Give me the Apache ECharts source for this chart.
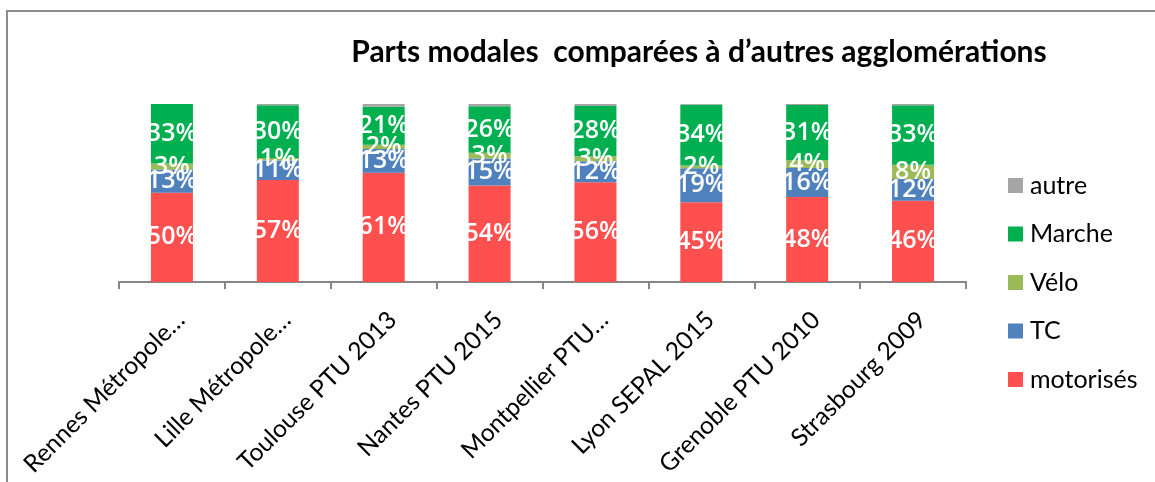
<!DOCTYPE html>
<html><head><meta charset="utf-8">
<script src="https://cdn.jsdelivr.net/npm/echarts@6/dist/echarts.min.js"></script>
<style>html,body{margin:0;padding:0;background:#fff}#c{width:1155px;height:482px}</style>
</head><body><div id="c"></div>
<script>
const categories = ["Rennes Métropole…","Lille Métropole…","Toulouse PTU 2013","Nantes PTU 2015","Montpellier PTU…","Lyon SEPAL 2015","Grenoble PTU 2010","Strasbourg 2009"];
const motorises = [50.2, 57.3, 61.4, 54.2, 56.0, 44.8, 47.8, 45.7];
const tc        = [13.0, 10.9, 13.3, 15.2, 11.8, 19.1, 16.3, 12.2];
const velo      = [3.4, 1.4, 2.4, 3.2, 2.8, 1.6, 4.3, 8.0];
const marche    = [33.4, 29.7, 21.4, 26.2, 28.3, 34.1, 31.0, 33.4];
const autre     = [0.0, 0.7, 1.5, 1.2, 1.1, 0.4, 0.6, 0.7];
const legendOrder = ["autre","Marche","Vélo","TC","motorisés"];
const title = "Parts modales  comparées à d’autres agglomérations";

const chart = echarts.init(document.getElementById('c'));
const lbl = {show:true, position:'inside', color:'#fff', fontFamily:'Open Sans', fontWeight:600, fontSize:25,
  formatter: p => Math.round(p.value) + '%'};
function s(name, data, color, label){
  return {name, type:'bar', stack:'t', data, barWidth:42, itemStyle:{color},
    label: label ? lbl : {show:false}, emphasis:{disabled:true}};
}
chart.setOption({
  animation:false,
  title:{text:title, left:699, textAlign:'center', top:37, padding:0,
    textStyle:{fontFamily:'Lato', fontWeight:'bold', fontSize:30, color:'#000'}},
  legend:{data:legendOrder, orient:'vertical', left:1008, top:173, padding:0, itemWidth:15, itemHeight:15, itemGap:23.5,
    icon:'rect', textStyle:{fontFamily:'Lato', fontSize:25, color:'#000', padding:[0,0,0,2]}},
  grid:{left:119, right:189, top:104, bottom:200},
  xAxis:{type:'category', data:categories,
    axisLine:{lineStyle:{color:'#868686', width:2}},
    axisTick:{show:true, length:7, lineStyle:{color:'#868686', width:2}},
    axisLabel:{rotate:45, interval:0, margin:25, verticalAlign:'top', fontFamily:'Lato', fontSize:24.5, color:'#000'}},
  yAxis:{type:'value', min:0, max:100, show:false},
  graphic:[
    {type:'line', shape:{x1:7, y1:11, x2:7, y2:482}, style:{stroke:'#8c8c8c', lineWidth:2}},
    {type:'line', shape:{x1:6, y1:11, x2:1155, y2:11}, style:{stroke:'#8c8c8c', lineWidth:2}}
  ],
  series:[
    s('motorisés', motorises, '#FF5050', true),
    s('TC', tc, '#4F81BD', true),
    s('Vélo', velo, '#9BBB59', true),
    s('Marche', marche, '#00B050', true),
    s('autre', autre, '#A5A5A5', false)
  ]
});
</script></body></html>
